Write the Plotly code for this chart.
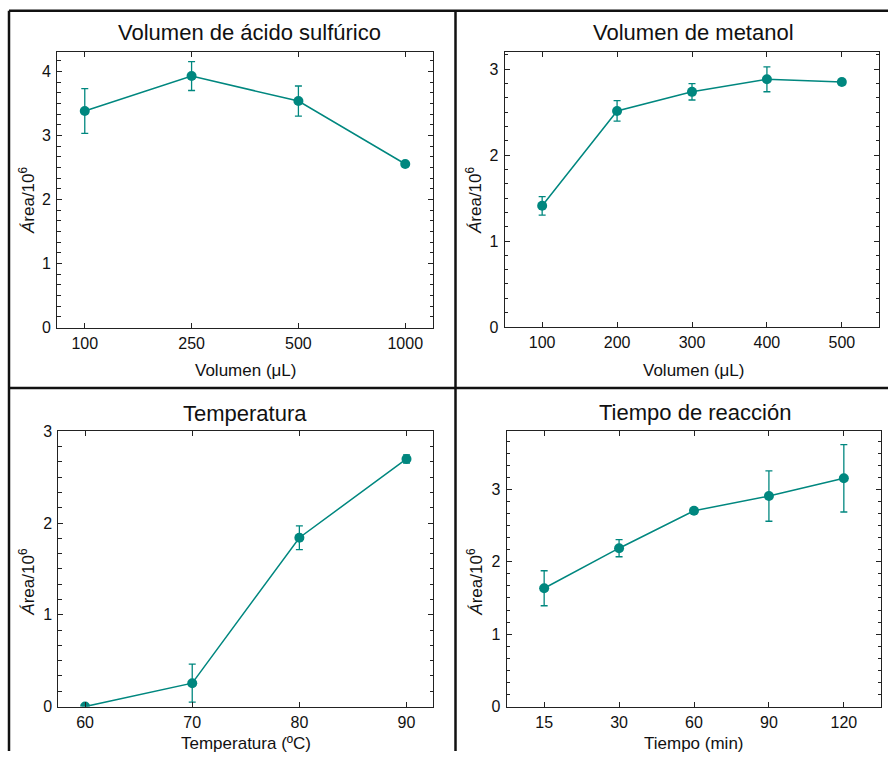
import plotly.graph_objects as go

# ---- data ----
acid_vol = ["100", "250", "500", "1000"]
acid_area = [3.385, 3.93, 3.54, 2.556]
acid_err = [0.35, 0.225, 0.235, 0.03]

meoh_vol = [100, 200, 300, 400, 500]
meoh_area = [1.41, 2.515, 2.737, 2.883, 2.852]
meoh_err = [0.108, 0.12, 0.095, 0.145, 0.03]

temp_c = [60, 70, 80, 90]
temp_area = [0.0, 0.255, 1.841, 2.70]
temp_err = [0.0, 0.207, 0.13, 0.045]

time_min = ["15", "30", "60", "90", "120"]
time_area = [1.634, 2.187, 2.704, 2.907, 3.152]
time_err = [0.242, 0.118, 0.025, 0.348, 0.465]

titles = ["Volumen de ácido sulfúrico", "Volumen de metanol", "Temperatura", "Tiempo de reacción"]
xtitles = ["Volumen (μL)", "Volumen (μL)", "Temperatura (ºC)", "Tiempo (min)"]
ytitle = "<i>Á</i>rea/10<sup>6</sup>"

W, H = 888, 760
TEAL = "#00877f"
FONT = "Liberation Sans, Arial, sans-serif"

# vertical placement compensation for the capture (observed y' = 8.3 + 0.976*y)
VA, VS = 8.3, 0.976

fig = go.Figure()

series = [
    (acid_vol, acid_area, acid_err),
    (meoh_vol, meoh_area, meoh_err),
    (temp_c, temp_area, temp_err),
    (time_min, time_area, time_err),
]
for i, (x, y, e) in enumerate(series):
    s = "" if i == 0 else str(i + 1)
    fig.add_trace(go.Scatter(
        x=x, y=y, mode="lines+markers",
        error_y=dict(type="data", array=e, visible=True, color=TEAL, thickness=1.3, width=3.5),
        line=dict(color=TEAL, width=1.5),
        marker=dict(color=TEAL, size=10),
        xaxis="x" + s, yaxis="y" + s, showlegend=False, cliponaxis=True,
    ))

def px2x(p):
    return p / W

def px2y(p):
    fy = (p - VA) / VS
    return min(1.0, max(0.0, 1 - fy / H))

# plot-area boxes in pixels: (left, right, top, bottom)
boxes = [
    (57, 433, 52, 327.3),
    (504.7, 879.3, 52.3, 326.7),
    (58.3, 433.3, 431, 705.7),
    (506.7, 881.3, 431, 705.7),
]
xranges = [[-0.26, 3.26], [50, 550], [57.5, 92.5], [-0.5, 4.5]]
yranges = [[0, 4.31], [0, 3.2], [0, 3.0], [0, 3.8]]
ydticks = [1, 1, 1, 1]
xtypes = ["category", "linear", "linear", "category"]
xdticks = [None, 100, 10, None]

common_axis = dict(
    showline=True, linecolor="#222", linewidth=1, mirror="ticks",
    ticks="inside", ticklen=5, tickwidth=1, tickcolor="#222",
    showgrid=False, zeroline=False,
    tickfont=dict(family=FONT, size=16, color="#111"),
)

layout = {}
for i, (l, r, t, b) in enumerate(boxes):
    s = "" if i == 0 else str(i + 1)
    xa = dict(common_axis, domain=[px2x(l), px2x(r)], range=xranges[i], type=xtypes[i],
              anchor="y" + s, ticklabelstandoff=1)
    if xdticks[i] is not None:
        xa["dtick"] = xdticks[i]
        xa["tick0"] = 0
    ya = dict(common_axis, domain=[px2y(b), px2y(t)], range=yranges[i], dtick=ydticks[i],
              anchor="x" + s, ticklabelstandoff=2,
              minor=dict(dtick=1 / 6, ticks="inside", ticklen=3.5, tickwidth=1, tickcolor="#222", showgrid=False))
    layout["xaxis" + s] = xa
    layout["yaxis" + s] = ya

fig.update_layout(**layout)

annotations = []
title_pos = [(249, 33), (693, 33), (245, 413), (694.5, 412)]
xt_pos = [(245, 370), (693, 370), (246, 743), (694, 743)]
yt_pos = [(27, 200), (474, 200), (27, 581), (475, 581)]
for i in range(4):
    annotations.append(dict(text=titles[i], x=px2x(title_pos[i][0]), y=px2y(title_pos[i][1]),
                            xref="paper", yref="paper", showarrow=False, xanchor="center", yanchor="middle",
                            font=dict(family=FONT, size=22, color="#111")))
    annotations.append(dict(text=xtitles[i], x=px2x(xt_pos[i][0]), y=px2y(xt_pos[i][1]),
                            xref="paper", yref="paper", showarrow=False, xanchor="center", yanchor="middle",
                            font=dict(family=FONT, size=17, color="#111")))
    annotations.append(dict(text=ytitle, x=px2x(yt_pos[i][0]), y=px2y(yt_pos[i][1]), textangle=-90,
                            xref="paper", yref="paper", showarrow=False, xanchor="center", yanchor="middle",
                            font=dict(family=FONT, size=17, color="#111")))

# panel frame lines
top_y = px2y(11)
mid_y = px2y(387.7)
shapes = [
    dict(type="line", xref="paper", yref="paper", x0=px2x(9), x1=1, y0=top_y, y1=top_y, line=dict(color="#111", width=2.5)),
    dict(type="line", xref="paper", yref="paper", x0=px2x(9), x1=px2x(9), y0=top_y, y1=0, line=dict(color="#111", width=2.5)),
    dict(type="line", xref="paper", yref="paper", x0=px2x(455.5), x1=px2x(455.5), y0=top_y, y1=0, line=dict(color="#111", width=2.5)),
    dict(type="line", xref="paper", yref="paper", x0=px2x(9), x1=1, y0=mid_y, y1=mid_y, line=dict(color="#111", width=2.5)),
]

fig.update_layout(
    width=W, height=H, margin=dict(l=0, r=0, t=0, b=0),
    paper_bgcolor="white", plot_bgcolor="white",
    annotations=annotations, shapes=shapes,
    font=dict(family=FONT, color="#111"),
)

post = "document.body.style.margin='0';"

fig.write_html("out.html", config={"displayModeBar": False}, post_script=post)
